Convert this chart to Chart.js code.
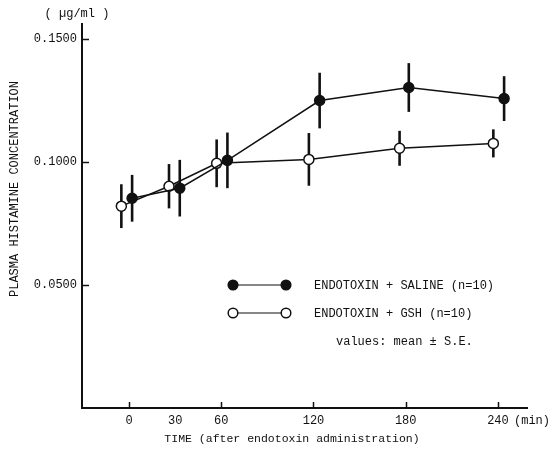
<!DOCTYPE html>
<html>
<head>
<meta charset="utf-8">
<script src="https://cdn.jsdelivr.net/npm/chart.js@4/dist/chart.umd.min.js"></script>
<style>
  body { margin: 0; background: #fff; }
  #wrap { width: 558px; height: 456px; }
</style>
</head>
<body>
<div id="wrap"><canvas id="histChart" width="558" height="456"></canvas></div>
<script>
// Data
const timeTicks = [0, 30, 60, 120, 180, 240];
const yTicks = [0.05, 0.10, 0.15];

// ENDOTOXIN + SALINE (filled), plotted slightly right of each time
const salineX = [2, 33, 64, 124, 182, 244];
const salineMean = [0.0852, 0.0893, 0.1006, 0.1249, 0.1302, 0.1257];
const salineSE = [0.0095, 0.0115, 0.0113, 0.0113, 0.0099, 0.0091];

// ENDOTOXIN + GSH (open), plotted slightly left of each time
const gshX = [-5, 26, 57, 117, 176, 237];
const gshMean = [0.0820, 0.0901, 0.0994, 0.1010, 0.1055, 0.1075];
const gshSE = [0.0089, 0.0090, 0.0097, 0.0107, 0.0071, 0.0057];

const FONT = "'Liberation Mono', 'DejaVu Sans Mono', monospace";
const INK = '#111';

function toPoints(xs, ys) {
    return xs.map((x, i) => ({ x: x, y: ys[i] }));
}

// Error bars, inward tick marks, legend and free text
const decorPlugin = {
    id: 'decor',
    beforeDatasetsDraw(chart) {
        const ctx = chart.ctx;
        const xs = chart.scales.x, ys = chart.scales.y;
        const groups = [[salineX, salineMean, salineSE], [gshX, gshMean, gshSE]];
        ctx.save();
        ctx.strokeStyle = INK;
        ctx.lineWidth = 2.6;
        groups.forEach(([gx, gm, gs]) => {
            gx.forEach((x, i) => {
                const px = xs.getPixelForValue(x);
                ctx.beginPath();
                ctx.moveTo(px, ys.getPixelForValue(gm[i] + gs[i]));
                ctx.lineTo(px, ys.getPixelForValue(gm[i] - gs[i]));
                ctx.stroke();
            });
        });
        ctx.restore();
    },
    afterDraw(chart) {
        const ctx = chart.ctx;
        const area = chart.chartArea;
        const xs = chart.scales.x, ys = chart.scales.y;
        ctx.save();
        ctx.strokeStyle = INK;
        ctx.lineWidth = 1.5;
        // y ticks point inward
        yTicks.forEach(v => {
            const py = Math.round(ys.getPixelForValue(v)) + 0.5;
            ctx.beginPath();
            ctx.moveTo(area.left, py);
            ctx.lineTo(area.left + 7, py);
            ctx.stroke();
        });
        // x ticks point up (no mark at 30)
        timeTicks.filter(t => t !== 30).forEach(t => {
            const px = Math.round(xs.getPixelForValue(t)) + 0.5;
            ctx.beginPath();
            ctx.moveTo(px, area.bottom);
            ctx.lineTo(px, area.bottom - 6);
            ctx.stroke();
        });

        ctx.fillStyle = INK;
        ctx.font = '12px ' + FONT;
        ctx.textBaseline = 'middle';

        // unit label
        ctx.textAlign = 'center';
        ctx.fillText('( \u00b5g/ml )', 77, 14);
        // (min)
        ctx.textAlign = 'left';
        ctx.fillText('(min)', 514, 421);
        // x title
        ctx.textAlign = 'center';
        ctx.font = '11.5px ' + FONT;
        ctx.fillText('TIME (after endotoxin administration)', 292, 439);

        // y title, rotated
        ctx.save();
        ctx.translate(15, 189);
        ctx.rotate(-Math.PI / 2);
        ctx.font = '12px ' + FONT;
        ctx.fillText('PLASMA HISTAMINE CONCENTRATION', 0, 0);
        ctx.restore();

        // legend
        const rows = [
            { y: 285, fill: INK, text: 'ENDOTOXIN + SALINE (n=10)' },
            { y: 313, fill: '#fff', text: 'ENDOTOXIN + GSH (n=10)' }
        ];
        rows.forEach(r => {
            ctx.lineWidth = 1.2;
            ctx.beginPath();
            ctx.moveTo(238, r.y);
            ctx.lineTo(281, r.y);
            ctx.stroke();
            [233, 286].forEach(cx => {
                ctx.beginPath();
                ctx.arc(cx, r.y, 4.8, 0, Math.PI * 2);
                ctx.fillStyle = r.fill;
                ctx.fill();
                ctx.lineWidth = 1.5;
                ctx.stroke();
            });
            ctx.fillStyle = INK;
            ctx.textAlign = 'left';
            ctx.font = '12px ' + FONT;
            ctx.fillText(r.text, 314, r.y + 1);
        });
        ctx.fillText('values: mean \u00b1 S.E.', 336, 342);
        ctx.restore();
    }
};

new Chart(document.getElementById('histChart'), {
    type: 'line',
    data: {
        datasets: [
            {
                label: 'ENDOTOXIN + SALINE (n=10)',
                data: toPoints(salineX, salineMean),
                borderColor: INK,
                borderWidth: 1.5,
                pointRadius: 5,
                pointBorderWidth: 1.5,
                pointBackgroundColor: INK,
                pointBorderColor: INK,
                tension: 0
            },
            {
                label: 'ENDOTOXIN + GSH (n=10)',
                data: toPoints(gshX, gshMean),
                borderColor: INK,
                borderWidth: 1.5,
                pointRadius: 5,
                pointBorderWidth: 1.5,
                pointBackgroundColor: '#fff',
                pointBorderColor: INK,
                tension: 0
            }
        ]
    },
    options: {
        responsive: false,
        animation: false,
        layout: { padding: { top: 24, right: 31, left: 0, bottom: 0 } },
        plugins: {
            legend: { display: false },
            tooltip: { enabled: false }
        },
        scales: {
            x: {
                type: 'linear',
                min: -30.6,
                max: 258.9,
                afterBuildTicks: scale => {
                    scale.ticks = timeTicks.map(v => ({ value: v }));
                },
                afterFit: scale => { scale.height = 48; },
                ticks: {
                    color: INK,
                    padding: 6,
                    maxRotation: 0,
                    font: { family: FONT, size: 12 },
                    callback: v => String(v)
                },
                grid: { display: false, drawTicks: false },
                border: { display: true, color: INK, width: 2 }
            },
            y: {
                type: 'linear',
                min: 0,
                max: 0.156,
                afterBuildTicks: scale => {
                    scale.ticks = yTicks.map(v => ({ value: v }));
                },
                afterFit: scale => { scale.width = 82; },
                ticks: {
                    color: INK,
                    padding: 5,
                    font: { family: FONT, size: 12 },
                    callback: v => Number(v).toFixed(4)
                },
                grid: { display: false, drawTicks: false },
                border: { display: true, color: INK, width: 2 }
            }
        }
    },
    plugins: [decorPlugin]
});
</script>
</body>
</html>
